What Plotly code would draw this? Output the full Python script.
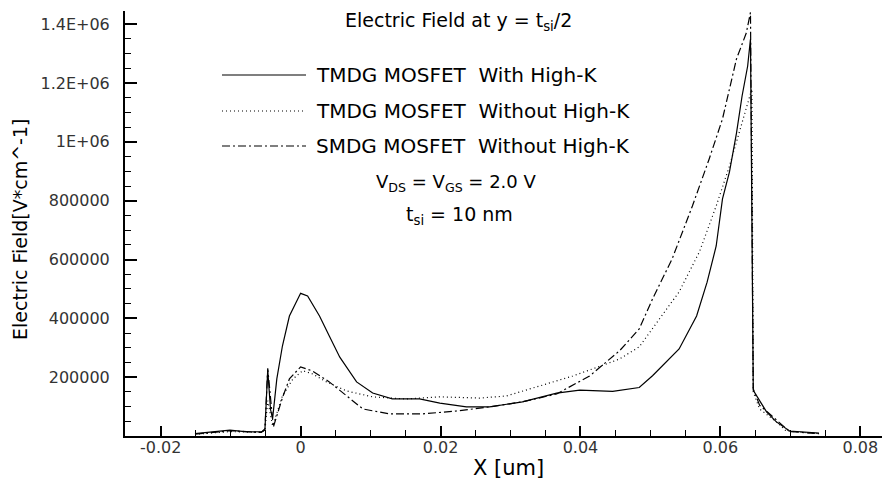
import plotly.graph_objects as go

# ---- data (x in um, field in V/cm) ----
x_solid = [-0.0151, -0.0130, -0.0101, -0.0080, -0.0056, -0.0051, -0.0047, -0.0043, -0.0040, -0.0034,
           -0.0026, -0.0016, -0.0009, 0.0000, 0.0010, 0.0027, 0.0041, 0.0056, 0.0080, 0.0103,
           0.0131, 0.0170, 0.0199, 0.0237, 0.0270, 0.0317, 0.0366, 0.0399, 0.0446, 0.0484,
           0.0503, 0.0541, 0.0566, 0.0581, 0.0594, 0.0603, 0.0613, 0.0623, 0.0631, 0.0639,
           0.0643, 0.0647, 0.0666, 0.0680, 0.0699, 0.0741]
y_solid = [8000, 12000, 20000, 15000, 14000, 20000, 225000, 90000, 60000, 194000,
           306000, 408000, 440000, 485000, 476000, 408000, 340000, 268000, 184000, 146000,
           126000, 126000, 112000, 99000, 99000, 116000, 146000, 156000, 152000, 165000,
           205000, 296000, 408000, 523000, 646000, 806000, 898000, 1030000, 1156000, 1258000,
           1350000, 155000, 82000, 48000, 17000, 10000]

x_dot = [-0.0151, -0.0101, -0.0056, -0.0051, -0.0047, -0.0040, -0.0026, -0.0011, 0.0003, 0.0017,
         0.0037, 0.0066, 0.0103, 0.0151, 0.0199, 0.0256, 0.0294, 0.0341, 0.0389, 0.0437,
         0.0456, 0.0484, 0.0503, 0.0541, 0.0570, 0.0594, 0.0613, 0.0627, 0.0641, 0.0645,
         0.0647, 0.0656, 0.0680, 0.0694, 0.0741]
y_dot = [6000, 15000, 12000, 20000, 120000, 34000, 136000, 194000, 222000, 211000,
         184000, 153000, 133000, 126000, 133000, 129000, 136000, 170000, 204000, 245000,
         262000, 303000, 364000, 490000, 626000, 782000, 918000, 1030000, 1140000, 1180000,
         150000, 92000, 48000, 17000, 8000]

x_dd = [-0.0151, -0.0101, -0.0056, -0.0051, -0.0047, -0.0042, -0.0039, -0.0026, -0.0016, 0.0000,
        0.0017, 0.0041, 0.0066, 0.0089, 0.0127, 0.0174, 0.0223, 0.0270, 0.0317, 0.0366,
        0.0413, 0.0456, 0.0484, 0.0503, 0.0531, 0.0560, 0.0584, 0.0603, 0.0623, 0.0637,
        0.0643, 0.0647, 0.0656, 0.0680, 0.0699, 0.0741]
y_dd = [6000, 18000, 12000, 25000, 230000, 100000, 30000, 130000, 194000, 235000,
        221000, 184000, 136000, 92000, 75000, 75000, 85000, 99000, 116000, 143000,
        204000, 290000, 364000, 466000, 602000, 782000, 942000, 1078000, 1282000, 1370000,
        1440000, 160000, 105000, 55000, 15000, 8000]

series_names = ["TMDG MOSFET  With High-K", "TMDG MOSFET  Without High-K", "SMDG MOSFET  Without High-K"]
y_tickvals = [200000, 400000, 600000, 800000, 1000000, 1200000, 1400000]
y_ticktext = ["200000", "400000", "600000", "800000", "1E+06", "1.2E+06", "1.4E+06"]
x_tickvals = [-0.02, 0, 0.02, 0.04, 0.06, 0.08]
x_ticktext = ["-0.02", "0", "0.02", "0.04", "0.06", "0.08"]

FONT = "DejaVu Sans, Verdana, sans-serif"
DASHES = ["solid", "1px,3px", "8px,3px,2px,3px"]

fig = go.Figure()
for xs, ys, name, dash in zip([x_solid, x_dot, x_dd], [y_solid, y_dot, y_dd], series_names, DASHES):
    fig.add_trace(go.Scatter(x=xs, y=ys, mode="lines", name=name,
                             line=dict(color="black", width=1.2, dash=dash), showlegend=False))

# page offset of the figure div (body margin)
OFF = 8
W, H = 890 - OFF, 483 - OFF
# plot area in page pixels: x 125..889, y 11..436
L, R, T, B = 125 - OFF, 890 - 889, 11 - OFF, 483 - 436
pw, ph = W - L - R, H - T - B

def px(xp):
    return (xp - OFF - L) / pw

def py(yp):
    return (H - B - (yp - OFF)) / ph

fig.update_layout(
    width=W, height=H,
    margin=dict(l=L, r=R, t=T, b=B, autoexpand=False),
    paper_bgcolor="white", plot_bgcolor="white",
    font=dict(family=FONT, color="#222"),
)
fig.update_xaxes(range=[-0.0251, 0.0841], showgrid=False, zeroline=False, automargin=False,
                 showline=True, linecolor="black", linewidth=2,
                 ticks="inside", ticklen=10, tickwidth=2, tickcolor="black",
                 tickvals=x_tickvals, ticktext=x_ticktext, tickfont=dict(size=16, color="#333"),
                 ticklabelstandoff=-4,
                 minor=dict(ticks="inside", ticklen=6, tickwidth=1, tickcolor="black",
                            tick0=0, dtick=0.005))
fig.update_yaxes(range=[0, 1445000], showgrid=False, zeroline=False, automargin=False,
                 showline=True, linecolor="black", linewidth=2,
                 ticks="inside", ticklen=12, tickwidth=2, tickcolor="black",
                 tickvals=y_tickvals, ticktext=y_ticktext, tickfont=dict(size=16, color="#333"),
                 ticklabelstandoff=10,
                 minor=dict(ticks="inside", ticklen=6, tickwidth=1, tickcolor="black",
                            tick0=0, dtick=50000))

# title and info texts
fig.add_annotation(x=px(458), y=py(21), xref="paper", yref="paper", showarrow=False,
                   text="Electric Field at y = t<sub>si</sub>/2", font=dict(size=19, color="black"),
                   xanchor="center", yanchor="middle")
fig.add_annotation(x=px(456), y=py(183), xref="paper", yref="paper", showarrow=False,
                   text="V<sub>DS</sub> = V<sub>GS</sub> = 2.0 V", font=dict(size=18, color="black"),
                   xanchor="center", yanchor="middle")
fig.add_annotation(x=px(459), y=py(215), xref="paper", yref="paper", showarrow=False,
                   text="t<sub>si</sub> = 10 nm", font=dict(size=19, color="black"),
                   xanchor="center", yanchor="middle")

# legend (lines + labels)
leg_y = [75, 111, 146]
for yy, name, dash in zip(leg_y, series_names, DASHES):
    fig.add_shape(type="line", xref="paper", yref="paper", x0=px(222), x1=px(306), y0=py(yy), y1=py(yy),
                  line=dict(color="black", width=1.2, dash=dash))
    fig.add_annotation(x=px(314), y=py(yy), xref="paper", yref="paper", showarrow=False,
                       text=name.replace("  ", "&nbsp;&nbsp;"), font=dict(size=20, color="black"),
                       xanchor="left", yanchor="middle")

# axis titles
fig.add_annotation(x=px(508), y=py(468), xref="paper", yref="paper", showarrow=False,
                   text="X [um]", font=dict(size=21, color="black"), xanchor="center", yanchor="middle")
fig.add_annotation(x=px(20), y=py(230), xref="paper", yref="paper", showarrow=False, textangle=-90,
                   text="Electric Field[V*cm^-1]", font=dict(size=19, color="black"),
                   xanchor="center", yanchor="middle")

fig.write_html("out.html")
